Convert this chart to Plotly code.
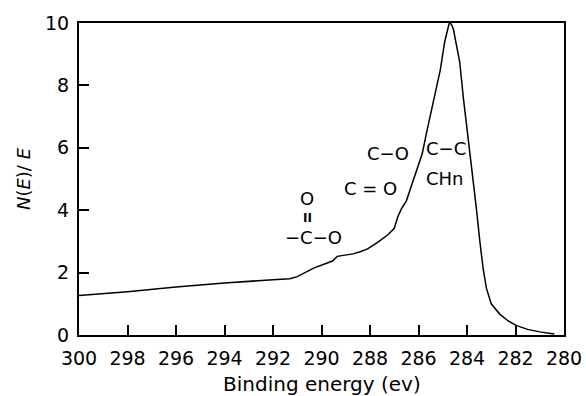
import plotly.graph_objects as go

# Binding energy (eV) and N(E)/E
energy = [300, 298, 296, 294, 292, 291.3, 291.0, 290.6, 290.3, 289.9, 289.55, 289.35,
          289.0, 288.7, 288.4, 288.1, 287.7, 287.25, 287.0, 286.85, 286.7, 286.5,
          286.35, 286.1, 285.85, 285.65, 285.4, 285.1, 284.92, 284.82, 284.74, 284.7,
          284.64, 284.56, 284.45, 284.3, 284.15, 283.95, 283.78, 283.62, 283.47,
          283.33, 283.2, 283.0, 282.65, 282.3, 281.95, 281.5, 281.0, 280.4]
intensity = [1.27, 1.39, 1.54, 1.67, 1.77, 1.80, 1.87, 2.02, 2.15, 2.27, 2.37, 2.52,
             2.56, 2.60, 2.67, 2.76, 2.96, 3.22, 3.42, 3.80, 4.05, 4.30,
             4.65, 5.20, 5.80, 6.55, 7.45, 8.50, 9.40, 9.75, 9.97, 10.0,
             9.95, 9.80, 9.35, 8.75, 7.60, 6.35, 5.25, 4.10, 3.00,
             2.10, 1.50, 1.00, 0.67, 0.45, 0.30, 0.18, 0.10, 0.03]

x_ticks = [300, 298, 296, 294, 292, 290, 288, 286, 284, 282, 280]
y_ticks = [0, 2, 4, 6, 8, 10]

labels = ["C\u2212C", "CHn", "C\u2212O", "C = O", "O", "<b>II</b>", "\u2212C\u2212O"]
label_x = [284.87, 284.91, 287.26, 287.96, 290.58, 290.56, 290.35]
label_y = [5.99, 5.03, 5.83, 4.70, 4.39, 3.75, 3.11]
label_size = [18, 18, 18, 18, 18, 12, 18]

x_title = "Binding energy (ev)"
y_title = "<i>N</i>(<i>E</i>)/ <i>E</i>"

FONT = "DejaVu Sans"

fig = go.Figure()
fig.add_trace(go.Scatter(x=energy, y=intensity, mode="lines",
                         line=dict(color="black", width=1.5), showlegend=False,
                         hoverinfo="skip"))

for t, xx, yy, s in zip(labels, label_x, label_y, label_size):
    fig.add_annotation(x=xx, y=yy, text=t, showarrow=False,
                       font=dict(family=FONT, size=s, color="black"),
                       xanchor="center", yanchor="middle")

# x-axis title below the tick labels
fig.add_annotation(xref="paper", yref="paper", x=0.5, y=-0.156, text=x_title,
                   showarrow=False, xanchor="center", yanchor="middle",
                   font=dict(family=FONT, size=20, color="black"))

fig.update_xaxes(range=[300, 280], tickvals=x_ticks, ticktext=[str(v) for v in x_ticks],
                 ticks="inside", ticklen=10, tickwidth=1.5, tickcolor="black",
                 ticklabelstandoff=5, automargin=False,
                 showline=True, linewidth=2, linecolor="black", mirror=True,
                 showgrid=False, zeroline=False,
                 tickfont=dict(family=FONT, size=19, color="black"))
fig.update_yaxes(range=[0, 10], tickvals=y_ticks, ticktext=[str(v) for v in y_ticks],
                 ticks="inside", ticklen=10, tickwidth=1.5, tickcolor="black",
                 ticklabelstandoff=4, automargin=False,
                 showline=True, linewidth=2, linecolor="black", mirror=True,
                 showgrid=False, zeroline=False,
                 tickfont=dict(family=FONT, size=19, color="black"),
                 title=dict(text=y_title, standoff=10,
                            font=dict(family=FONT, size=18, color="black")))

fig.update_layout(width=586, height=396, margin=dict(l=79, r=22, t=23, b=61),
                  plot_bgcolor="white", paper_bgcolor="white")

fig.write_html("out.html")
